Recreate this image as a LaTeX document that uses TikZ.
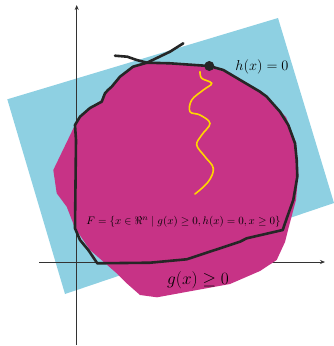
\documentclass[tikz,border=0pt]{standalone}
\usepackage{xcolor}
\usepackage{amsmath}
\usepackage{amssymb}
\usepackage{tikz}
\usetikzlibrary{arrows.meta,positioning,calc}

\definecolor{planeblue}{RGB}{142,208,226}
\definecolor{regionmag}{RGB}{199,51,134}
\definecolor{curvegray}{RGB}{38,38,38}
\definecolor{pathyellow}{RGB}{255,214,0}

\begin{document}
\begin{tikzpicture}[
  x=1pt, y=-1pt,
  >=Stealth,
  axis/.style={draw=black!80, line width=0.7pt, ->, >={Stealth[length=5pt,width=4pt]}},
  bound/.style={draw=curvegray, line width=2.6pt, line join=round, line cap=round},
  walk/.style={draw=pathyellow, line width=1.6pt, line cap=round},
  lbl/.style={inner sep=0pt, text=black},
]
\useasboundingbox (0,0) rectangle (334,346);

% plane h(x)=0 and region g(x)>=0
\fill[planeblue] (7.3,99.3) -- (278,18) -- (334,203) -- (65,294) -- cycle;
\draw[axis] (39,262) -- (325,262);
\draw[axis] (76.7,345) -- (76.7,5);
\fill[regionmag] (147,63) -- (175,63) -- (208,67) -- (223,71) -- (258,90) -- (286,117)
  -- (296,143) -- (298.3,173) -- (296,200) -- (288,230) -- (285,242) -- (276.7,260)
  -- (260,271) -- (230,284) -- (157,297.3) -- (140,295) -- (126.7,283.3) -- (116.7,273.3)
  -- (90,250) -- (75,228) -- (66.7,206.7) -- (56.7,193.3) -- (53.3,170) -- (75,125)
  -- (80,117) -- (90,108) -- (101.7,100) -- (105,93) -- (108,90) -- (112,86.7)
  -- (120,76.7) -- (133,66.7) -- cycle;

% feasible set boundary
\coordinate (cross) at (147,62.7);
\coordinate (tip) at (209.3,66);
\draw[bound] (cross) -- (170,63.3) -- (tip) -- (223.3,70) -- (260,91.7) -- (266.7,96.7)
  -- (280,111.7) -- (288.3,125) -- (295,143.3) -- (296.7,160) -- (297.3,176.7)
  -- (293.3,200) -- (287.3,216.7) -- (282.7,230) -- (246.7,238.3) -- (240,241.7)
  -- (186.7,259.3) -- (150,262.7) -- (97.3,263.3) -- (88.3,250) -- (80,240) -- (75,228.3)
  -- (76,140) -- (75,125) -- (80,116.7) -- (90,108) -- (101.7,101.7) -- (105,93.3)
  -- (108,90) -- (111.7,86.7) -- (120,76.7) -- (133,66.7) -- cycle;
\draw[bound] (115,55.7) -- (127.3,56.7) -- (136.7,60) -- (cross) -- (170,51.7) -- (183.3,43.3);

% path to the optimum
\draw[walk] plot[smooth, tension=0.6] coordinates {(200,71.7) (201.7,78.3) (211.7,83.3)
  (203.3,90) (191.7,100) (190,111.7) (200,115) (210,123.3) (201.7,135) (196.7,145)
  (205,156.7) (213.3,168.3) (208.3,181.7) (195,194)};
\node[circle, fill=curvegray, inner sep=0pt, minimum size=10pt] (opt) at (tip) {};

\node[lbl, font=\fontsize{14}{16}\selectfont] (hlbl) at (262,67) {$h(x)=0$};
\node[lbl, font=\fontsize{11}{13}\selectfont] (flbl) at (183.5,222) {$F=\{x\in\Re^n\mid g(x)\geq 0,h(x)=0,x\geq 0\}$};
\node[lbl, font=\fontsize{16}{18}\selectfont] (glbl) at (198,280) {$g(x)\geq 0$};
\end{tikzpicture}
\end{document}
